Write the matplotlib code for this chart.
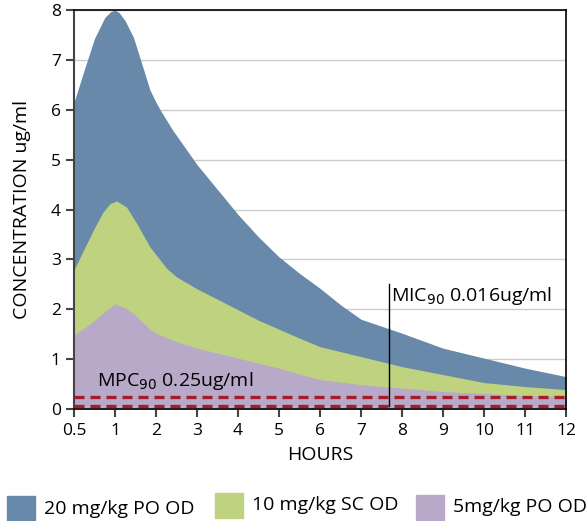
import matplotlib
matplotlib.use("Agg")
import matplotlib.pyplot as plt
import matplotlib.patches as patches
import numpy as np

plt.rcParams['font.family'] = ['Open Sans', 'DejaVu Sans']

# curves (hours, ug/ml)
hours_20_po = [0.5, 0.625, 0.75, 0.875, 0.95, 1, 1.1, 1.25, 1.45, 1.65, 1.85, 2, 2.1,
               2.4, 3, 3.5, 4, 4.5, 5, 5.5, 6, 6.5, 7, 7.5, 8, 9, 10, 11, 12]
conc_20_po = [6.15, 6.8, 7.43, 7.85, 7.97, 8.0, 7.95, 7.78, 7.45, 6.93, 6.4, 6.15, 6.0,
              5.6, 4.9, 4.4, 3.9, 3.45, 3.05, 2.72, 2.42, 2.09, 1.8, 1.66, 1.52, 1.22,
              1.02, 0.82, 0.65]

hours_10_sc = [0.5, 0.635, 0.755, 0.855, 0.94, 1.04, 1.28, 1.53, 1.85, 2.26, 2.5, 3,
               3.5, 4, 4.5, 5, 5.5, 6, 6.5, 7, 7.5, 8, 9, 10, 11, 12]
conc_10_sc = [2.79, 3.25, 3.65, 3.95, 4.12, 4.17, 4.05, 3.72, 3.25, 2.82, 2.65, 2.41,
              2.2, 1.99, 1.78, 1.6, 1.42, 1.25, 1.15, 1.05, 0.95, 0.85, 0.69, 0.53, 0.45,
              0.39]

hours_5_po = [0.5, 0.65, 0.75, 0.875, 1, 1.25, 1.5, 1.85, 2, 2.5, 3, 3.5, 4, 4.5, 5, 5.5,
              6, 6.5, 7, 7.5, 8, 9, 10, 11, 12]
conc_5_po = [1.49, 1.65, 1.78, 1.95, 2.11, 2.03, 1.88, 1.6, 1.52, 1.35, 1.22, 1.12, 1.02,
             0.92, 0.82, 0.7, 0.59, 0.54, 0.49, 0.45, 0.42, 0.35, 0.31, 0.27, 0.25]

series_labels = ['20 mg/kg PO OD', '10 mg/kg SC OD', '5mg/kg PO OD']
colors = ['#6889a9', '#bfd280', '#b8a9c8']

tick_hours = [0.5, 1, 2, 3, 4, 5, 6, 7, 8, 9, 10, 11, 12]
tick_labels = ['0.5', '1', '2', '3', '4', '5', '6', '7', '8', '9', '10', '11', '12']

mpc_levels = [0.24, 0.06]
mic_hour = 7.68
mic_top = 2.5


def pos(h):
    # the axis is evenly spaced by tick, 0.5 -> 0, 1 -> 1, 2 -> 2 ...
    h = np.asarray(h, dtype=float)
    return np.where(h >= 1, h, 2 * h - 1)


fig = plt.figure(figsize=(5.86, 5.21), dpi=100)
ax = fig.add_axes([74 / 586, 1 - 409 / 521, 492 / 586, 399 / 521])

series = [(hours_20_po, conc_20_po), (hours_10_sc, conc_10_sc), (hours_5_po, conc_5_po)]
for (h, y), c in zip(series, colors):
    ax.fill_between(pos(h), 0, y, color=c, linewidth=0, zorder=2)

for lvl in mpc_levels:
    ax.axhline(lvl, color='#a51c2a', linewidth=2.4, dashes=(3.0, 1.8), zorder=3)

ax.plot([pos(mic_hour), pos(mic_hour)], [0.06, mic_top], color='black',
        linewidth=1, zorder=4)
ax.text(pos(mic_hour) + 0.05, 2.26, 'MIC$_{90}$ 0.016ug/ml', fontsize=14,
        va='center', ha='left', zorder=5)
ax.text(0.56, 0.56, 'MPC$_{90}$ 0.25ug/ml', fontsize=14, va='center', ha='left',
        zorder=5)

ax.set_xlim(0, 12)
ax.set_ylim(0, 8)
ax.set_xticks(pos(tick_hours))
ax.set_xticklabels(tick_labels)
ax.set_yticks(range(0, 9))
ax.yaxis.grid(True, color='#cccccc', linewidth=1)
ax.set_axisbelow(True)
ax.tick_params(axis='both', labelsize=12.5, length=6, width=1.5, color='#444444')
ax.tick_params(axis='x', pad=4)

for side in ['top', 'right', 'bottom']:
    ax.spines[side].set_color('black')
    ax.spines[side].set_linewidth(1.2)
ax.spines['left'].set_color('#444444')
ax.spines['left'].set_linewidth(1.5)

ax.set_xlabel('HOURS', fontsize=14, labelpad=5)
ax.set_ylabel('CONCENTRATION ug/ml', fontsize=14, labelpad=14)

# legend along the bottom edge: square then label
legend_x = [7, 215, 416]
legend_y = [496, 493, 495]
for lx, ly, c, lab in zip(legend_x, legend_y, colors, series_labels):
    sq = patches.Rectangle((lx / 586, 1 - (ly + 25) / 521), 28 / 586, 25 / 521,
                           transform=fig.transFigure, color=c)
    fig.add_artist(sq)
    fig.text((lx + 37) / 586, 1 - (ly + 12.5) / 521, lab, fontsize=14,
             va='center', ha='left')

fig.savefig('out.png', dpi=100)
